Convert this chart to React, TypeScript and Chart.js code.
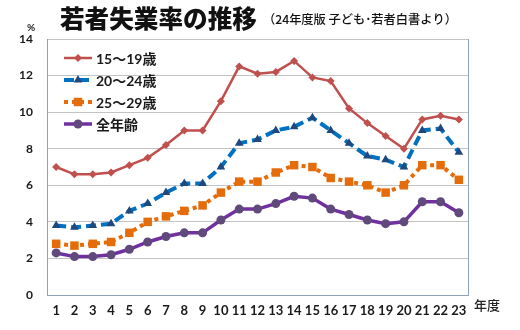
import { useEffect, useRef } from "react";
import { Chart, registerables } from "chart.js";

Chart.register(...registerables);

const years = ["1", "2", "3", "4", "5", "6", "7", "8", "9", "10", "11", "12", "13", "14", "15", "16", "17", "18", "19", "20", "21", "22", "23"];
const age15to19 = [7.0, 6.6, 6.6, 6.7, 7.1, 7.5, 8.2, 9.0, 9.0, 10.6, 12.5, 12.1, 12.2, 12.8, 11.9, 11.7, 10.2, 9.4, 8.7, 8.0, 9.6, 9.8, 9.6];
const age20to24 = [3.8, 3.7, 3.8, 3.9, 4.6, 5.0, 5.6, 6.1, 6.1, 7.0, 8.3, 8.5, 9.0, 9.2, 9.7, 9.0, 8.3, 7.6, 7.4, 7.0, 9.0, 9.1, 7.8];
const age25to29 = [2.8, 2.7, 2.8, 2.9, 3.4, 4.0, 4.3, 4.6, 4.9, 5.6, 6.2, 6.2, 6.7, 7.1, 7.0, 6.4, 6.2, 6.0, 5.6, 6.0, 7.1, 7.1, 6.3];
const allAges = [2.3, 2.1, 2.1, 2.2, 2.5, 2.9, 3.2, 3.4, 3.4, 4.1, 4.7, 4.7, 5.0, 5.4, 5.3, 4.7, 4.4, 4.1, 3.9, 4.0, 5.1, 5.1, 4.5];
const seriesNames = ["15〜19歳", "20〜24歳", "25〜29歳", "全年齢"];
const yTicks = [0, 2, 4, 6, 8, 10, 12, 14];

const titleText = "若者失業率の推移";
const subtitleText = "（24年度版 子ども･若者白書より）";
const unitText = "%";
const xUnitText = "年度";

const JP = "'Noto Sans CJK JP', sans-serif";
const NUM = "Lato, 'Noto Sans CJK JP', sans-serif";
const borderColor = "#8fa2b6";

type Style = {
  line: string;
  marker: string;
  width: number;
  dash: number[];
  point: string;
  radius: number;
};

const styles: Style[] = [
  { line: "#C0504D", marker: "#C0504D", width: 2.5, dash: [], point: "rectRot", radius: 4 },
  { line: "#0070C0", marker: "#1F497D", width: 4, dash: [10, 5], point: "triangle", radius: 5 },
  { line: "#E46C0A", marker: "#E46C0A", width: 4, dash: [4, 4], point: "rect", radius: 6 },
  { line: "#7030A0", marker: "#604A7B", width: 3.5, dash: [], point: "circle", radius: 4.5 },
];

function drawMarker(ctx: CanvasRenderingContext2D, kind: string, x: number, y: number, r: number, color: string) {
  ctx.save();
  ctx.fillStyle = color;
  ctx.beginPath();
  if (kind === "rectRot") {
    ctx.moveTo(x, y - r);
    ctx.lineTo(x + r, y);
    ctx.lineTo(x, y + r);
    ctx.lineTo(x - r, y);
    ctx.closePath();
  } else if (kind === "triangle") {
    const s = r * Math.sqrt(3) / 2;
    ctx.moveTo(x, y - r);
    ctx.lineTo(x + s, y + r / 2);
    ctx.lineTo(x - s, y + r / 2);
    ctx.closePath();
  } else if (kind === "rect") {
    const s = Math.SQRT1_2 * r;
    ctx.rect(x - s, y - s, 2 * s, 2 * s);
  } else {
    ctx.arc(x, y, r, 0, Math.PI * 2);
  }
  ctx.fill();
  ctx.restore();
}

function fitText(ctx: CanvasRenderingContext2D, text: string, weight: string, family: string, target: number, base: number) {
  ctx.font = `${weight} ${base}px ${family}`;
  const w = ctx.measureText(text).width;
  const size = w > 0 ? (base * target) / w : base;
  ctx.font = `${weight} ${size}px ${family}`;
}

const decorPlugin = {
  id: "decor",
  afterDraw(chart: any) {
    const ctx: CanvasRenderingContext2D = chart.ctx;
    const area = chart.chartArea;
    ctx.save();
    // right border of plot area
    ctx.strokeStyle = borderColor;
    ctx.lineWidth = 1;
    ctx.beginPath();
    ctx.moveTo(Math.round(area.right) + 0.5, area.top);
    ctx.lineTo(Math.round(area.right) + 0.5, area.bottom);
    ctx.stroke();

    // title
    ctx.fillStyle = "#111";
    ctx.textBaseline = "middle";
    ctx.textAlign = "left";
    fitText(ctx, titleText, "900", JP, 197, 25);
    ctx.fillText(titleText, 60, 19);
    fitText(ctx, subtitleText, "500", JP, 194, 13);
    ctx.fillText(subtitleText, 263, 19);

    ctx.font = `bold 10px ${NUM}`;
    ctx.fillStyle = "#222";
    ctx.textAlign = "center";
    ctx.fillText(unitText, 31, 28);

    ctx.textAlign = "left";
    ctx.font = `500 13px ${JP}`;
    ctx.fillText(xUnitText, 474, 305);

    // legend
    const rows = [58, 80, 102, 124];
    rows.forEach((y, i) => {
      const st = styles[i];
      ctx.save();
      ctx.strokeStyle = st.line;
      ctx.lineWidth = st.width;
      ctx.setLineDash(st.dash);
      ctx.beginPath();
      ctx.moveTo(64, y);
      ctx.lineTo(92, y);
      ctx.stroke();
      ctx.restore();
      drawMarker(ctx, st.point, 78, y, st.radius, st.marker);
      ctx.fillStyle = "#1a1a1a";
      ctx.font = `bold 14px ${NUM}`;
      ctx.textAlign = "left";
      ctx.textBaseline = "middle";
      ctx.fillText(seriesNames[i], 96, y + 1);
    });
    ctx.restore();
  },
};

export default function App() {
  const ref = useRef<HTMLCanvasElement>(null);
  useEffect(() => {
    const seriesData = [age15to19, age20to24, age25to29, allAges];
    const chart = new Chart(ref.current!, {
      type: "line",
      data: {
        labels: years,
        datasets: seriesData.map((d, i) => ({
          label: seriesNames[i],
          data: d,
          borderColor: styles[i].line,
          backgroundColor: styles[i].marker,
          borderWidth: styles[i].width,
          borderDash: styles[i].dash,
          pointStyle: styles[i].point as any,
          pointRadius: styles[i].radius,
          pointBackgroundColor: styles[i].marker,
          pointBorderColor: styles[i].marker,
          pointBorderWidth: 0,
          tension: 0,
          fill: false,
        })),
      },
      options: {
        responsive: false,
        animation: false,
        devicePixelRatio: 1,
        layout: { padding: { top: 39, right: 52, left: 0, bottom: 0 } },
        plugins: { legend: { display: false }, tooltip: { enabled: false }, title: { display: false } },
        scales: {
          x: {
            offset: true,
            grid: { display: false, drawTicks: false },
            border: { display: true, color: borderColor, width: 1 },
            ticks: {
              font: { family: NUM, size: 13, weight: "bold" },
              color: "#1a1a1a",
              padding: 8,
              maxRotation: 0,
              autoSkip: false,
            },
            afterFit: (s: any) => {
              s.height = 35;
            },
          },
          y: {
            min: 0,
            max: 14,
            afterBuildTicks: (s: any) => {
              s.ticks = yTicks.map((v) => ({ value: v }));
            },
            grid: { color: "#c4c4c4", drawTicks: false, lineWidth: 1 },
            border: { display: true, color: borderColor, width: 1 },
            ticks: {
              font: { family: NUM, size: 12, weight: "bold" },
              color: "#1a1a1a",
              padding: 14,
            },
            afterFit: (s: any) => {
              s.width = 47;
            },
          },
        },
      },
      plugins: [decorPlugin],
    });
    return () => chart.destroy();
  }, []);
  return (
    <div style={{ position: "fixed", left: 0, top: 0, width: 520, height: 330, background: "#fff" }}>
      <canvas ref={ref} width={520} height={330} style={{ width: 520, height: 330, display: "block" }} />
    </div>
  );
}
